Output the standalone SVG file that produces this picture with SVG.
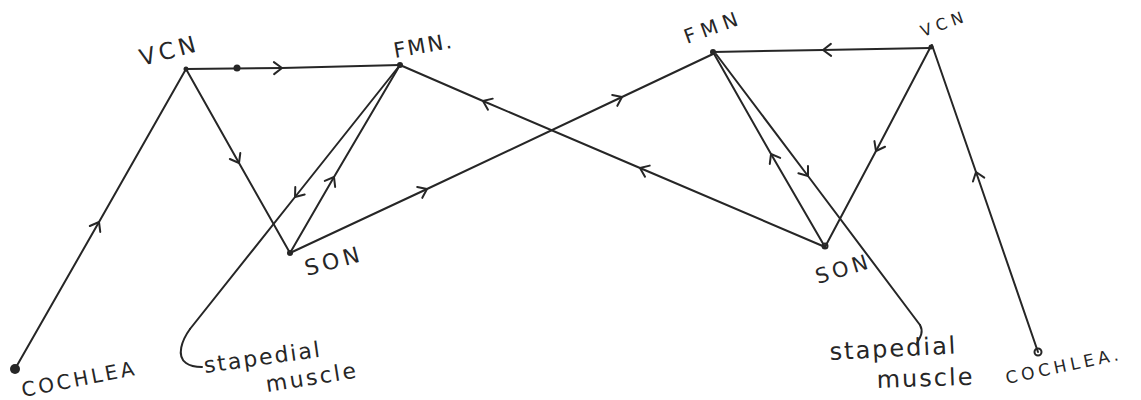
<svg xmlns="http://www.w3.org/2000/svg" width="1141" height="400" viewBox="0 0 1141 400">
<style>
.ln{fill:none;stroke:#262626;stroke-width:2;stroke-linecap:round;stroke-linejoin:round}
.ar{marker-mid:url(#chev)}
.lb{font-family:"DejaVu Sans",sans-serif;fill:#262626}
.dot{fill:#262626}
</style>
<defs>
<marker id="chev" markerUnits="userSpaceOnUse" markerWidth="24" markerHeight="24" viewBox="-12 -12 24 24" refX="0" refY="0" orient="auto">
<path d="M-8,-6 L0,0 L-8,6" fill="none" stroke="#262626" stroke-width="2" stroke-linecap="round" stroke-linejoin="round"/>
</marker>
</defs>
<rect width="1141" height="400" fill="#ffffff"/>
<g id="connectors">
<path class="ln ar" d="M15,369 L99,222 L186,69"/>
<path class="ln ar" d="M186,69 L282,68 L400,65"/>
<circle class="dot" cx="237" cy="68" r="3.5"/>
<path class="ln ar" d="M186,69 L239,163 L290,253"/>
<path class="ln ar" d="M290,253 L334,177 L400,65"/>
<path class="ln ar" d="M400,65 L295,197 L190,329"/>
<path class="ln" d="M190,329 C182,340 176,356 186,363 C190,366 196,367 202,367"/>
<path class="ln ar" d="M290,253 L427,189 L622,97 L713,54"/>
<path class="ln ar" d="M825,247 L640,168 L483,101 L400,65"/>
<path class="ln ar" d="M930,48 L823,50 L713,52"/>
<path class="ln ar" d="M930,48 L876,151 L825,247"/>
<path class="ln ar" d="M1038,352 L976,172 L932,45"/>
<path class="ln ar" d="M825,247 L771,154 L713,52"/>
<path class="ln ar" d="M716,54 L808,176 L920,325"/>
<path class="ln" d="M920,325 C924,332 920,338 917,343"/>
</g>
<g id="left-vcn">
<circle class="dot" cx="186" cy="69" r="2.5"/>
<text class="lb" x="142" y="66" font-size="23" letter-spacing="4" transform="rotate(-15 142 66)">VCN</text>
</g>
<g id="left-fmn">
<circle class="dot" cx="400" cy="65" r="3"/>
<text class="lb" x="395" y="58" font-size="21" letter-spacing="2" transform="rotate(-10 395 58)">FMN.</text>
</g>
<g id="left-son">
<circle class="dot" cx="290" cy="253" r="3"/>
<text class="lb" x="307" y="276" font-size="22" letter-spacing="4" transform="rotate(-15 307 276)">SON</text>
</g>
<g id="left-cochlea">
<circle class="dot" cx="15" cy="369" r="5"/>
<text class="lb" x="23" y="397" font-size="20" letter-spacing="3" transform="rotate(-11 23 397)">COCHLEA</text>
</g>
<g id="left-stapedial">
<text class="lb" x="205" y="373" font-size="22" letter-spacing="2" transform="rotate(-8 205 373)">stapedial</text>
<text class="lb" x="267" y="392" font-size="22" letter-spacing="2.5" transform="rotate(-9 267 392)">muscle</text>
</g>
<g id="right-fmn">
<circle class="dot" cx="713" cy="52" r="3"/>
<text class="lb" x="687" y="44" font-size="20" letter-spacing="6" transform="rotate(-20 687 44)">FMN</text>
</g>
<g id="right-vcn">
<circle class="dot" cx="931" cy="47" r="2.5"/>
<text class="lb" x="923" y="37" font-size="16" letter-spacing="5" transform="rotate(-20 923 37)">VCN</text>
</g>
<g id="right-son">
<circle cx="825" cy="246" r="2.5" fill="none" stroke="#262626" stroke-width="2"/>
<text class="lb" x="818" y="284" font-size="21" letter-spacing="4" transform="rotate(-17 818 284)">SON</text>
</g>
<g id="right-stapedial">
<text class="lb" x="830" y="360" font-size="24" letter-spacing="2" transform="rotate(-3 830 360)">stapedial</text>
<text class="lb" x="877" y="388" font-size="24" letter-spacing="2" transform="rotate(-2 877 388)">muscle</text>
</g>
<g id="right-cochlea">
<circle cx="1038" cy="352" r="3.5" fill="none" stroke="#262626" stroke-width="2"/>
<text class="lb" x="1007" y="384" font-size="17" letter-spacing="4" transform="rotate(-12 1007 384)">COCHLEA.</text>
</g>
</svg>
